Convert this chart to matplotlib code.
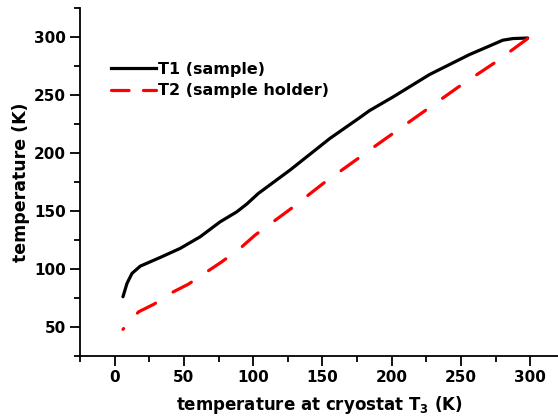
import matplotlib
matplotlib.use("Agg")
import matplotlib.pyplot as plt
from matplotlib.lines import Line2D
from matplotlib.ticker import MultipleLocator

plt.rcParams['font.family'] = ['DejaVu Sans']
plt.rcParams['font.weight'] = 'bold'
plt.rcParams['mathtext.fontset'] = 'custom'
plt.rcParams['mathtext.rm'] = 'DejaVu Sans:bold'
plt.rcParams['mathtext.bf'] = 'DejaVu Sans:bold'

# T1: sample temperature vs cryostat temperature
t3_sample = [6.0, 8.9, 12.5, 18.5, 32.9, 47.3, 61.7, 76.1, 88.1, 95.3, 103.7,
             126.5, 155.3, 177, 184, 201, 227.3, 241.7, 256.1, 270.5, 280.1,
             287.3, 298.1]
t1 = [75.9, 87.4, 96, 102.3, 109.8, 117.6, 127.6, 140.5, 149.1, 155.8, 165,
      185.1, 212.4, 230.5, 236.5, 248.3, 267.6, 276.2, 284.8, 292.2, 297.2,
      298.6, 299.1]

# T2: sample holder temperature
t3_holder = [6, 17.3, 28.1, 42.5, 53.3, 66.5, 77.3, 90.5, 101.3, 126.5, 150.5,
             175.7, 188.9, 248.9, 274.1, 298.1]
t2 = [47.8, 62.9, 69.3, 80.2, 86.8, 97.4, 106, 117.6, 129, 151.2, 173.6,
      195.2, 206.6, 257.5, 277.6, 298.6]

fig = plt.figure(figsize=(5.58, 4.2), dpi=100)
ax = fig.add_axes([0.1434, 0.153, 0.8566, 0.828])

ax.plot(t3_sample, t1, color='black', lw=2.3, solid_capstyle='round',
        solid_joinstyle='round')
ax.plot(t3_holder, t2, color='red', lw=2.3, linestyle=(6.2, (6.5, 6.5)),
        dash_capstyle='round')

ax.set_xlim(-25, 320)
ax.set_ylim(25, 325)
ax.xaxis.set_major_locator(MultipleLocator(50))
ax.xaxis.set_minor_locator(MultipleLocator(25))
ax.yaxis.set_major_locator(MultipleLocator(50))
ax.yaxis.set_minor_locator(MultipleLocator(25))

for s in ['top', 'right']:
    ax.spines[s].set_visible(False)
for s in ['left', 'bottom']:
    ax.spines[s].set_linewidth(1.3)

ax.tick_params(which='major', direction='out', length=7, width=1.3, labelsize=11, pad=3)
ax.tick_params(which='minor', direction='out', length=4, width=1.3)

ax.set_xlabel('temperature at cryostat T$_{3}$ (K)', fontsize=12, fontweight='bold', labelpad=7)
ax.set_ylabel('temperature (K)', fontsize=12.5, fontweight='bold', labelpad=3)

# legend handles: shorter dashes so two of them fit in the sample
handles = [Line2D([], [], color='black', lw=2.3),
           Line2D([], [], color='red', lw=2.3, linestyle=(0, (5.5, 4.5)), dash_capstyle='round')]
ax.legend(handles, ['T1 (sample)', 'T2 (sample holder)'], loc='upper left',
          bbox_to_anchor=(0.065, 0.845), frameon=False, fontsize=11.5,
          handlelength=2.8, handletextpad=0.15, labelspacing=0.4,
          borderaxespad=0, borderpad=0)

fig.savefig('out.png', dpi=100)
